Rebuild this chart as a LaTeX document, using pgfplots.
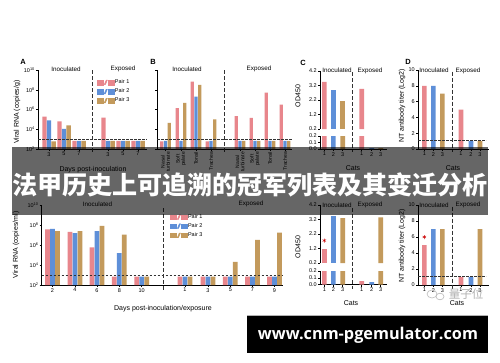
\documentclass[border=0pt]{standalone}
\usepackage{graphicx}
\usepackage{pgfplots}
\pgfplotsset{compat=1.18}
\usepackage{fontspec}
\setmainfont{Liberation Sans}
\newfontfamily\cjk{Noto Sans CJK SC}
\newfontfamily\osans{Open Sans}
\definecolor{p1}{HTML}{E8868C}
\definecolor{p2}{HTML}{5E8FD8}
\definecolor{p3}{HTML}{C39A5C}
\definecolor{dk}{HTML}{333333}
\newcommand\fs[1]{\fontsize{#1}{#1}\selectfont}
\newcommand\legimg[1]{\addlegendimage{legend image code/.code={%
  \fill[#1] (0pt,-2.3pt) rectangle (6pt,2.3pt);
  \fill[#1] (7pt,-2.3pt)--(8.2pt,-2.3pt)--(10.2pt,2.3pt)--(9pt,2.3pt)--cycle;
  \fill[#1] (11pt,-2.3pt) rectangle (17pt,2.3pt);}}}
\tikzset{
  hd/.style={dk, line width=0.7pt, dash pattern=on 2.5pt off 1.5pt},
  vd/.style={dk, line width=0.7pt, dash pattern=on 4pt off 2pt},
}
\pgfplotsset{
  panel/.style={scale only axis, anchor=south west,
    axis x line*=bottom, axis y line*=left,
    axis line style={black, line width=0.6pt},
    every tick/.style={black, line width=0.5pt},
    major tick length=2pt, tick align=outside,
    yminorticks=false, xminorticks=false,
    ticklabel style={font=\fs{5.5}, inner sep=1pt},
    clip mode=individual},
  leg/.style={legend style={at={#1}, anchor=north west, draw=none, fill=none,
    font=\fs{5.5}, inner sep=0pt, outer sep=0pt, row sep=2.4pt,
    nodes={inner sep=0.6pt}}, legend cell align=left},
  bA/.style={ybar, draw=none, forget plot, bar width=4.3pt, fill=#1},
}
\begin{document}
\begin{tikzpicture}
\useasboundingbox (0pt,0pt) rectangle (500pt,-362pt);
\fill[white] (0pt,0pt) rectangle (500pt,-362pt);

% ---------------- Panel A ----------------
\begin{axis}[panel, at={(38pt,-149pt)}, width=109pt, height=79pt,
  xmin=38, xmax=147, ymode=log, ymin=1e2, ymax=1e10, log origin=infty,
  ytick={1e2,1e4,1e6,1e8,1e10},
  yticklabels={10\textsuperscript{2},10\textsuperscript{4},10\textsuperscript{6},10\textsuperscript{8},10\textsuperscript{10}},
  xtick={49,64,79,108,123,138}, xticklabels={3,5,7,3,5,7},
  leg={(0.541,0.885)}]
\addplot[bA=p1, bar shift=-4.6pt] coordinates {(49,1.95e5) (64,6.2e4) (79,650) (108,1.55e5) (123,650) (138,650)};
\addplot[bA=p2, bar shift=0pt] coordinates {(49,7.8e4) (64,1.1e4) (79,650) (108,650) (123,650) (138,650)};
\addplot[bA=p3, bar shift=4.6pt] coordinates {(49,600) (64,2.5e4) (79,650) (108,650) (123,650) (138,650)};
\draw[hd] (axis cs:38,870) -- (axis cs:147,870);
\draw[vd] (axis cs:92.7,1e10) -- (axis cs:92.7,50);
\legimg{p1}\addlegendentry{Pair 1}
\legimg{p2}\addlegendentry{Pair 2}
\legimg{p3}\addlegendentry{Pair 3}
\end{axis}

% ---------------- Panel B ----------------
\begin{axis}[panel, at={(157pt,-149pt)}, width=135pt, height=79pt,
  xmin=157, xmax=292, ymode=log, ymin=1e2, ymax=1e10, log origin=infty,
  ytick={1e2,1e4,1e6,1e8,1e10}, yticklabels={},
  xtick={165.5,181,196,211,240,255,270,285},
  xticklabels={{Nasal\\turbinate},{Soft\\palate},Tonsil,Trachea,{Nasal\\turbinate},{Soft\\palate},Tonsil,Trachea},
  xticklabel style={rotate=90, anchor=east, align=center, font=\fontsize{5}{5.3}\selectfont}]
\addplot[bA=p1, bar width=3.3pt, bar shift=-3.7pt] coordinates {(165.5,600) (181,1.4e6) (196,6.8e8) (211,600) (240,2.1e5) (255,1.45e5) (270,5.2e7) (285,3.1e6)};
\addplot[bA=p2, bar width=3.3pt, bar shift=0pt] coordinates {(165.5,650) (181,650) (196,2.0e7) (211,650) (240,650) (255,650) (270,650) (285,650)};
\addplot[bA=p3, bar width=3.3pt, bar shift=3.7pt] coordinates {(165.5,4.5e4) (181,4.6e6) (196,3.2e8) (211,1.0e5) (240,650) (255,650) (270,650) (285,650)};
\draw[hd] (axis cs:157,870) -- (axis cs:292,870);
\draw[vd] (axis cs:224.3,1e10) -- (axis cs:224.3,50);
\end{axis}

% ---------------- Panel C (broken axis) ----------------
\begin{axis}[panel, at={(320pt,-129pt)}, width=67pt, height=58pt,
  xmin=320, xmax=387, ymin=0.2, ymax=4.2, axis x line=none,
  ytick={0.2,1.2,2.2,3.2,4.2}, yticklabels={0.2,1.2,2.2,3.2,4.2}]
\addplot[bA=p1, bar width=4.6pt] coordinates {(324.3,3.45) (361.7,2.97)};
\addplot[bA=p2, bar width=4.6pt] coordinates {(333.3,2.9)};
\addplot[bA=p3, bar width=4.6pt] coordinates {(342.7,2.1)};
\draw[vd] (axis cs:352.7,4.1) -- (axis cs:352.7,-1.39);
\end{axis}
\begin{axis}[panel, at={(320pt,-149pt)}, width=67pt, height=13pt,
  xmin=320, xmax=387, ymin=0, ymax=0.2,
  ytick={0,0.1,0.2}, yticklabels={0.0,0.1,0.2},
  xtick={324.3,333.3,342.7,361.7,371.7,380.7}, xticklabels={1,2,3,1,2,3}]
\addplot[bA=p1, bar width=4.6pt] coordinates {(324.3,3.45) (361.7,2.97)};
\addplot[bA=p2, bar width=4.6pt] coordinates {(333.3,2.9) (371.7,0.015)};
\addplot[bA=p3, bar width=4.6pt] coordinates {(342.7,2.1) (380.7,0.015)};
\end{axis}

% ---------------- Panel D ----------------
\begin{axis}[panel, at={(418pt,-149pt)}, width=71pt, height=79pt,
  xmin=418, xmax=489, ymin=0, ymax=10,
  ytick={0,2,4,6,8,10}, yticklabels={0,2,4,6,8,10},
  xtick={424.3,433.3,442.3,461,471,480}, xticklabels={1,2,3,1,2,3}]
\addplot[bA=p1, bar width=4.6pt] coordinates {(424.3,8) (461,5)};
\addplot[bA=p2, bar width=4.6pt] coordinates {(433.3,8) (471,1)};
\addplot[bA=p3, bar width=4.6pt] coordinates {(442.3,7) (480,1)};
\draw[hd] (axis cs:418,1.05) -- (axis cs:486,1.05);
\draw[vd] (axis cs:452,9.8) -- (axis cs:452,-0.4);
\end{axis}

% ---------------- Panel E ----------------
\begin{axis}[panel, at={(41.7pt,-285pt)}, width=241.3pt, height=80pt,
  xmin=41.7, xmax=283, ymode=log, ymin=1e2, ymax=1e10, log origin=infty,
  ytick={1e2,1e4,1e6,1e8,1e10},
  yticklabels={10\textsuperscript{2},10\textsuperscript{4},10\textsuperscript{6},10\textsuperscript{8},10\textsuperscript{10}},
  xtick={52.5,75,97,119.3,141.7,185,208,230.3,252.5,274.5},
  xticklabels={2,4,6,8,10,1,3,5,7,9},
  leg={(0.532,0.89)}]
\addplot[bA=p1, bar width=4.7pt, bar shift=-5pt] coordinates {(52.5,3.7e7) (75,2.0e7) (97,5.9e5) (119.3,700) (141.7,700) (185,700) (208,700) (230.3,700) (252.5,700) (274.5,700)};
\addplot[bA=p2, bar width=4.7pt, bar shift=0pt] coordinates {(52.5,4.0e7) (75,1.5e7) (97,2.5e7) (119.3,1.5e5) (141.7,700) (185,700) (208,700) (230.3,700) (252.5,700) (274.5,700)};
\addplot[bA=p3, bar width=4.7pt, bar shift=5pt] coordinates {(52.5,2.5e7) (75,2.5e7) (97,8.0e7) (119.3,1.07e7) (141.7,700) (185,700) (208,700) (230.3,2.1e4) (252.5,3.2e6) (274.5,1.7e7)};
\draw[hd] (axis cs:41.7,920) -- (axis cs:283,920);
\draw[vd] (axis cs:163.3,5e9) -- (axis cs:163.3,32);
\legimg{p1}\addlegendentry{Pair 1}
\legimg{p2}\addlegendentry{Pair 2}
\legimg{p3}\addlegendentry{Pair 3}
\end{axis}

% ---------------- Panel F (broken axis) ----------------
\begin{axis}[panel, at={(320pt,-263pt)}, width=67pt, height=58pt,
  xmin=320, xmax=387, ymin=0.2, ymax=4.2, axis x line=none,
  ytick={0.2,1.2,2.2,3.2,4.2}, yticklabels={0.2,1.2,2.2,3.2,4.2}]
\addplot[bA=p1, bar width=4.6pt] coordinates {(324.3,1.15)};
\addplot[bA=p2, bar width=4.6pt] coordinates {(333.3,3.44)};
\addplot[bA=p3, bar width=4.6pt] coordinates {(342.7,3.3) (380.7,3.35)};
\addplot[only marks, mark=asterisk, mark size=2pt, color=red!80!black, forget plot] coordinates {(324.3,1.75)};
\draw[vd] (axis cs:352.7,4.0) -- (axis cs:352.7,-1.59);
\end{axis}
\begin{axis}[panel, at={(320pt,-284.5pt)}, width=67pt, height=13.5pt,
  xmin=320, xmax=387, ymin=0, ymax=0.2,
  ytick={0,0.1,0.2}, yticklabels={0.0,0.1,0.2},
  xtick={324.3,333.3,342.7,361.7,371.7,380.7}, xticklabels={1,2,3,1,2,3}]
\addplot[bA=p1, bar width=4.6pt] coordinates {(324.3,1.15) (361.7,0.05)};
\addplot[bA=p2, bar width=4.6pt] coordinates {(333.3,3.44) (371.7,0.035)};
\addplot[bA=p3, bar width=4.6pt] coordinates {(342.7,3.3) (380.7,3.35)};
\end{axis}

% ---------------- Panel G ----------------
\begin{axis}[panel, at={(418pt,-285pt)}, width=71pt, height=80pt,
  xmin=418, xmax=489, ymin=0, ymax=10,
  ytick={0,2,4,6,8,10}, yticklabels={0,2,4,6,8,10},
  xtick={424.3,433.3,442.3,461,471,480}, xticklabels={1,2,3,1,2,3}]
\addplot[bA=p1, bar width=4.6pt] coordinates {(424.3,5) (461,1)};
\addplot[bA=p2, bar width=4.6pt] coordinates {(433.3,7) (471,1)};
\addplot[bA=p3, bar width=4.6pt] coordinates {(442.3,7) (480,7)};
\addplot[only marks, mark=asterisk, mark size=2pt, color=red!80!black, forget plot] coordinates {(424.3,6)};
\draw[hd] (axis cs:418,1.1) -- (axis cs:486,1.1);
\draw[vd] (axis cs:452,9.8) -- (axis cs:452,-0.6);
\end{axis}

% ---------------- texts ----------------
\begin{scope}[every node/.style={inner sep=0pt}]
\node[font=\bfseries\fs{7.5}] at (23pt,-62pt) {A};
\node[font=\bfseries\fs{7.5}] at (153pt,-62pt) {B};
\node[font=\bfseries\fs{7.5}] at (303pt,-63pt) {C};
\node[font=\bfseries\fs{7.5}] at (408pt,-62pt) {D};
\foreach \x/\y/\t in {66/69/Inoculated,123/69/Exposed,187/69/Inoculated,259/69/Exposed,
   337/70.5/Inoculated,370/70.5/Exposed,434/70.5/Inoculated,468/70.5/Exposed,
   97.5/204/Inoculated,251/204/Exposed,337/205/Inoculated,370/205/Exposed,
   434/205/Inoculated,468/205/Exposed}
  \node[font=\fs{6.3}] at (\x pt,-\y pt) {\t};
\node[rotate=90, font=\fs{7}] at (17pt,-112pt) {Viral RNA (copies/g)};
\node[rotate=90, font=\fs{7}] at (16pt,-245pt) {Viral RNA (copies/ml)};
\node[rotate=90, font=\fs{7}] at (298pt,-96pt) {OD450};
\node[rotate=90, font=\fs{7}] at (298pt,-247pt) {OD450};
\node[rotate=90, font=\fs{7}] at (402pt,-106pt) {NT antibody titer (Log2)};
\node[rotate=90, font=\fs{7}] at (402pt,-246pt) {NT antibody titer (Log2)};
\node[font=\fs{7}] at (93pt,-170pt) {Days post-inoculation};
\node[font=\fs{7}] at (353pt,-168pt) {Cats};
\node[font=\fs{7}] at (453pt,-168pt) {Cats};
\node[font=\fs{7}] at (163pt,-309pt) {Days post-inoculation/exposure};
\node[font=\fs{7}] at (351pt,-303pt) {Cats};
\node[font=\fs{7}] at (457pt,-303pt) {Cats};
\end{scope}

% ---------------- overlays ----------------
\fill[black, opacity=0.6] (12pt,-147pt) rectangle (488pt,-215pt);
\node[white, inner sep=0pt] at (250pt,-185pt) {\resizebox{476pt}{!}{\cjk\bfseries 法甲历史上可追溯的冠军列表及其变迁分析}};
\draw[gray!55, line width=0.6pt] (432pt,-294pt) ellipse (5pt and 4pt);
\draw[gray!55, line width=0.6pt] (440pt,-296.5pt) ellipse (4pt and 3.3pt);
\node[gray!60, inner sep=0pt, font=\cjk\fs{11.5}] at (466pt,-294pt) {量子位};
\fill[black] (247pt,-315pt) rectangle (488pt,-353pt);
\draw[gray!60, line width=1pt] (247pt,-315.5pt) -- (488pt,-315.5pt);
\node[white, inner sep=0pt] at (368pt,-335pt) {\resizebox{220pt}{!}{\osans\bfseries www.cnm-pgemulator.com}};
\end{tikzpicture}
\end{document}
